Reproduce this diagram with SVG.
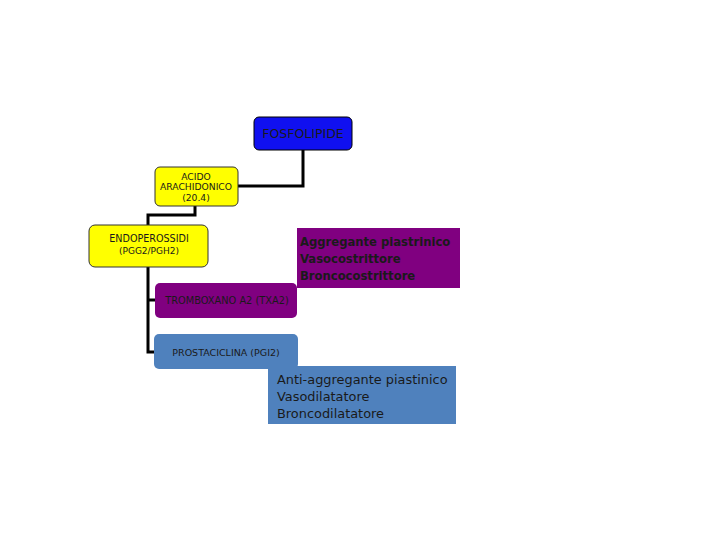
<svg xmlns="http://www.w3.org/2000/svg" width="720" height="540" viewBox="0 0 720 540">
<style>
.t{font-family:"DejaVu Sans","Liberation Sans",sans-serif;fill:#1a1a1a}
.c{fill:none;stroke:#000;stroke-width:3}
</style>
<rect width="720" height="540" fill="#fff"/>
<g id="connectors">
<polyline class="c" points="303,150 303,186 238,186"/>
<polyline class="c" points="195,206 195,215 148,215 148,225"/>
<polyline class="c" points="148,267 148,352 155,352"/>
<line class="c" x1="148" y1="300" x2="155" y2="300"/>
</g>
<g id="fosfolipide">
<rect x="254" y="117" width="98" height="33" rx="5" fill="#1010f0" stroke="#000" stroke-width="1"/>
<text class="t" x="303" y="138" font-size="12.5" text-anchor="middle">FOSFOLIPIDE</text>
</g>
<g id="acido">
<rect x="155" y="167" width="83" height="39" rx="5" fill="#ffff00" stroke="#333" stroke-width="1"/>
<text class="t" x="196" y="180" font-size="9.2" text-anchor="middle">ACIDO</text>
<text class="t" x="196" y="190" font-size="9.2" text-anchor="middle">ARACHIDONICO</text>
<text class="t" x="196" y="201" font-size="9.2" text-anchor="middle">(20.4)</text>
</g>
<g id="endoperossidi">
<rect x="89" y="225" width="119" height="42" rx="6" fill="#ffff00" stroke="#333" stroke-width="1"/>
<text class="t" x="149" y="242" font-size="9.6" text-anchor="middle">ENDOPEROSSIDI</text>
<text class="t" x="149" y="254" font-size="9" text-anchor="middle">(PGG2/PGH2)</text>
</g>
<g id="effetti-txa2">
<rect x="297" y="228" width="163" height="60" fill="#800080"/>
<text class="t" x="300" y="246" font-size="11.6" font-weight="bold">Aggregante piastrinico</text>
<text class="t" x="300" y="263" font-size="11.6" font-weight="bold">Vasocostrittore</text>
<text class="t" x="300" y="280" font-size="11.6" font-weight="bold">Broncocostrittore</text>
</g>
<g id="txa2">
<rect x="155" y="283" width="142" height="35" rx="5" fill="#800080"/>
<text class="t" x="227" y="304" font-size="9.8" text-anchor="middle">TROMBOXANO A2 (TXA2)</text>
</g>
<g id="pgi2">
<rect x="154" y="334" width="144" height="35" rx="5" fill="#4f81bd"/>
<text class="t" x="226" y="356" font-size="9.5" text-anchor="middle">PROSTACICLINA (PGI2)</text>
</g>
<g id="effetti-pgi2">
<rect x="268" y="366" width="188" height="58" fill="#4f81bd"/>
<text class="t" x="277" y="384" font-size="12.9">Anti-aggregante piastinico</text>
<text class="t" x="277" y="401" font-size="12.9">Vasodilatatore</text>
<text class="t" x="277" y="418" font-size="12.9">Broncodilatatore</text>
</g>
</svg>
